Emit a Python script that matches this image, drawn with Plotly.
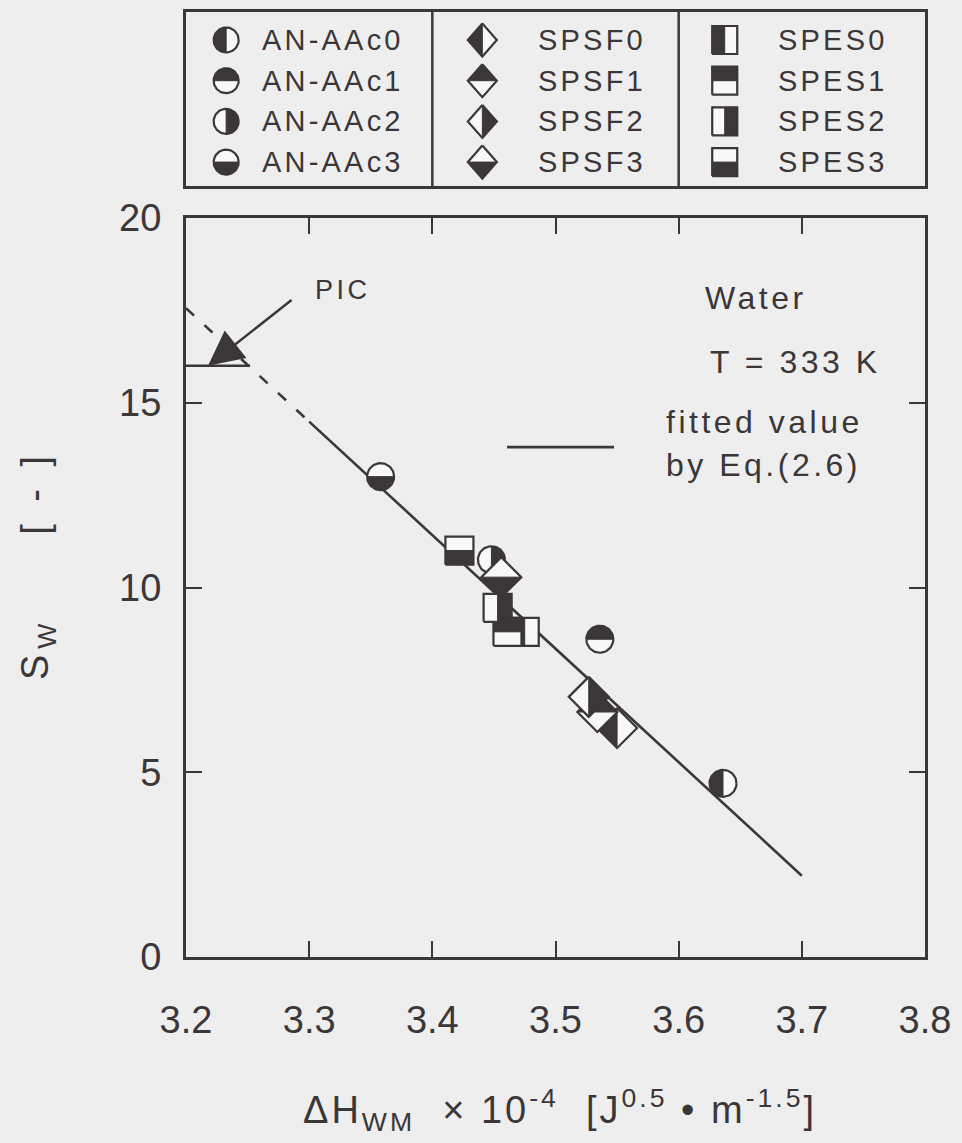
import numpy as np
import plotly.graph_objects as go

# ---------------- data ----------------
an_names = ["AN-AAc0", "AN-AAc1", "AN-AAc2", "AN-AAc3"]
an_x = [3.636, 3.536, 3.448, 3.358]
an_y = [4.70, 8.60, 10.75, 13.00]

spsf_names = ["SPSF0", "SPSF1", "SPSF2", "SPSF3"]
spsf_x = [3.550, 3.534, 3.527, 3.456]
spsf_y = [6.20, 6.63, 7.04, 10.28]

spes_names = ["SPES0", "SPES1", "SPES2", "SPES3"]
spes_x = [3.475, 3.461, 3.453, 3.422]
spes_y = [8.80, 8.80, 9.45, 11.00]

filled_half = ["left", "top", "right", "bottom"]

fit_dash_x = [3.20, 3.30]
fit_dash_y = [17.56, 14.49]
fit_solid_x = [3.30, 3.70]
fit_solid_y = [14.49, 2.20]

pic_x = [3.20, 3.252]
pic_y = [16.00, 16.00]

key_line_x = [3.4607, 3.5475]
key_line_y = [13.80, 13.80]

x_ticks = [3.2, 3.3, 3.4, 3.5, 3.6, 3.7, 3.8]
x_tick_text = ["3.2", "3.3", "3.4", "3.5", "3.6", "3.7", "3.8"]
y_ticks = [0, 5, 10, 15, 20]
y_tick_text = ["0", "5", "10", "15", "20"]

# ---------------- layout constants ----------------
W, H = 962, 1143
BG = "#efeeef"
INK = "#3b3637"
WHITE = "#f9f8f9"
FONT = "Liberation Sans, Arial, Helvetica, sans-serif"

M_LEFT, M_RIGHT, M_TOP, M_BOTTOM = 186, 925, 218, 957
L_TOP, L_BOTTOM = 12, 186
X_RANGE = [3.2, 3.8]
Y_RANGE = [0, 20]
PX_X = (M_RIGHT - M_LEFT) / (X_RANGE[1] - X_RANGE[0])
PX_Y = (M_BOTTOM - M_TOP) / (Y_RANGE[1] - Y_RANGE[0])

ROW_PX = 40.7
FIRST_ROW_PX = 28
LEG_H = L_BOTTOM - L_TOP
LEG_Y_RANGE = [LEG_H / ROW_PX - FIRST_ROW_PX / ROW_PX, -FIRST_ROW_PX / ROW_PX]
LEG_PX_X = (M_RIGHT - M_LEFT) / 3.0
LEG_PX_Y = -ROW_PX


def offsets(kind, half, rx, ry, n=72):
    """pixel offsets (up-positive) for full outline and the filled half"""
    if kind == "circle":
        t = np.linspace(0, 2 * np.pi, n + 1)
        full = (rx * np.cos(t), ry * np.sin(t))
        start = {"left": np.pi / 2, "right": -np.pi / 2, "top": 0.0, "bottom": np.pi}[half]
        th = np.linspace(start, start + np.pi, n // 2 + 1)
        hx = np.append(rx * np.cos(th), rx * np.cos(th[0]))
        hy = np.append(ry * np.sin(th), ry * np.sin(th[0]))
        return full, (hx, hy)
    if kind == "square":
        fx = np.array([-1, 1, 1, -1, -1]) * rx
        fy = np.array([-1, -1, 1, 1, -1]) * ry
        hp = {
            "left": ([-1, 0, 0, -1, -1], [-1, -1, 1, 1, -1]),
            "right": ([0, 1, 1, 0, 0], [-1, -1, 1, 1, -1]),
            "top": ([-1, 1, 1, -1, -1], [0, 0, 1, 1, 0]),
            "bottom": ([-1, 1, 1, -1, -1], [-1, -1, 0, 0, -1]),
        }[half]
        return (fx, fy), (np.array(hp[0]) * rx, np.array(hp[1]) * ry)
    # diamond
    fx = np.array([0, 1, 0, -1, 0]) * rx
    fy = np.array([1, 0, -1, 0, 1]) * ry
    hp = {
        "left": ([0, -1, 0, 0], [1, 0, -1, 1]),
        "right": ([0, 1, 0, 0], [1, 0, -1, 1]),
        "top": ([-1, 0, 1, -1], [0, 1, 0, 0]),
        "bottom": ([-1, 0, 1, -1], [0, -1, 0, 0]),
    }[half]
    return (fx, fy), (np.array(hp[0]) * rx, np.array(hp[1]) * ry)


def add_marker(fig, kind, half, cx, cy, rx, ry, sx, sy, xa="x", ya="y"):
    (fx, fy), (hx, hy) = offsets(kind, half, rx, ry)
    fig.add_trace(go.Scatter(
        x=cx + fx / sx, y=cy + fy / sy, mode="lines", fill="toself",
        fillcolor=WHITE, line=dict(color=INK, width=2.2),
        xaxis=xa, yaxis=ya, hoverinfo="skip", showlegend=False))
    fig.add_trace(go.Scatter(
        x=cx + hx / sx, y=cy + hy / sy, mode="lines", fill="toself",
        fillcolor=INK, line=dict(color=INK, width=1),
        xaxis=xa, yaxis=ya, hoverinfo="skip", showlegend=False))


def sp(text, ls=3.5):
    return '<span style="letter-spacing:%spx">%s</span>' % (ls, text)


fig = go.Figure()

# fitted line
fig.add_trace(go.Scatter(x=fit_dash_x, y=fit_dash_y, mode="lines",
                         line=dict(color=INK, width=2.6, dash="11px,14px"),
                         hoverinfo="skip", showlegend=False))
fig.add_trace(go.Scatter(x=fit_solid_x, y=fit_solid_y, mode="lines",
                         line=dict(color=INK, width=2.6),
                         hoverinfo="skip", showlegend=False))
fig.add_trace(go.Scatter(x=pic_x, y=pic_y, mode="lines",
                         line=dict(color=INK, width=2.4),
                         hoverinfo="skip", showlegend=False))
fig.add_trace(go.Scatter(x=key_line_x, y=key_line_y, mode="lines",
                         line=dict(color=INK, width=2.6),
                         hoverinfo="skip", showlegend=False))

series = [
    ("circle", an_x, an_y, 13.5, 13.5),
    ("square", spes_x, spes_y, 14.0, 14.0),
    ("diamond", spsf_x, spsf_y, 20.0, 20.0),
]
for kind, xs, ys, rx, ry in series:
    for i in range(len(xs)):
        add_marker(fig, kind, filled_half[i], xs[i], ys[i], rx, ry, PX_X, PX_Y)

# legend box contents
leg_cols = [
    ("circle", an_names, 0.163, 0.301, 12.5, 12.5),
    ("diamond", spsf_names, 1.203, 1.419, 14.5, 16.5),
    ("square", spes_names, 2.187, 2.394, 12.5, 14.0),
]
annotations = []
for kind, names, mx, tx, lrx, lry in leg_cols:
    for i, nm in enumerate(names):
        add_marker(fig, kind, filled_half[i], mx, i, lrx, lry, LEG_PX_X, LEG_PX_Y,
                   xa="x2", ya="y2")
        annotations.append(dict(x=tx, y=i, xref="x2", yref="y2", text=sp(nm, 3.2),
                                showarrow=False, xanchor="left", yanchor="middle",
                                font=dict(family=FONT, size=29, color=INK)))

# texts inside the plot
txt_font = dict(family=FONT, size=32, color=INK)
annotations += [
    dict(x=3.6198, y=17.84, text=sp("Water"), showarrow=False,
         xanchor="left", yanchor="middle", font=txt_font),
    dict(x=3.6239, y=16.10, text=sp("T = 333 K"), showarrow=False,
         xanchor="left", yanchor="middle", font=txt_font),
    dict(x=3.5881, y=14.48, text=sp("fitted value"), showarrow=False,
         xanchor="left", yanchor="middle", font=txt_font),
    dict(x=3.5881, y=13.32, text=sp("by Eq.(2.6)"), showarrow=False,
         xanchor="left", yanchor="middle", font=txt_font),
    dict(x=3.3275, y=18.05, text=sp("PIC", 3.5), showarrow=False,
         xanchor="center", yanchor="middle",
         font=dict(family=FONT, size=27, color=INK)),
    dict(x=3.2179, y=16.0, ax=85, ay=-67, text="", showarrow=True,
         arrowhead=2, arrowsize=2.8, arrowwidth=2.5, arrowcolor=INK,
         xref="x", yref="y"),
    # axis titles
    dict(x=560 / W, y=1 - 1110 / H, xref="paper", yref="paper",
         text=sp("ΔH<sub>WM</sub>  × 10<sup>-4</sup>  [J<sup>0.5</sup> • m<sup>-1.5</sup>]", 3),
         showarrow=False, xanchor="center", yanchor="middle",
         font=dict(family=FONT, size=38, color=INK)),
    dict(x=38 / W, y=1 - 565 / H, xref="paper", yref="paper",
         text=sp("S<sub>W</sub>     [ - ]", 6), textangle=-90,
         showarrow=False, xanchor="center", yanchor="middle",
         font=dict(family=FONT, size=38, color=INK)),
]

axis_common = dict(showline=True, linewidth=3, linecolor=INK, mirror="ticks",
                   ticks="inside", ticklen=16, tickwidth=2.4, tickcolor=INK,
                   showgrid=False, zeroline=False, automargin=False,
                   tickfont=dict(family=FONT, size=38, color=INK))

fig.update_layout(
    width=W, height=H, margin=dict(l=0, r=0, t=0, b=0, autoexpand=False),
    paper_bgcolor=BG, plot_bgcolor=BG, showlegend=False,
    xaxis=dict(domain=[M_LEFT / W, M_RIGHT / W], range=X_RANGE,
               tickmode="array", tickvals=x_ticks, ticktext=x_tick_text,
               ticklabelstandoff=27, **axis_common),
    yaxis=dict(domain=[1 - M_BOTTOM / H, 1 - M_TOP / H], range=Y_RANGE,
               tickmode="array", tickvals=y_ticks, ticktext=y_tick_text,
               ticklabelstandoff=14, **axis_common),
    xaxis2=dict(domain=[M_LEFT / W, M_RIGHT / W], range=[0, 3], anchor="y2",
                showline=True, linewidth=3, linecolor=INK, mirror=True,
                automargin=False,
                showticklabels=False, ticks="", showgrid=False, zeroline=False),
    yaxis2=dict(domain=[1 - L_BOTTOM / H, 1 - L_TOP / H], range=LEG_Y_RANGE, anchor="x2",
                showline=True, linewidth=3, linecolor=INK, mirror=True,
                automargin=False,
                showticklabels=False, ticks="", showgrid=False, zeroline=False),
    shapes=[
        dict(type="line", xref="x2", yref="y2 domain", x0=1, x1=1, y0=0, y1=1,
             line=dict(color=INK, width=2.5)),
        dict(type="line", xref="x2", yref="y2 domain", x0=2, x1=2, y0=0, y1=1,
             line=dict(color=INK, width=2.5)),
    ],
    annotations=annotations,
)

fig.write_html("out.html", config={"displayModeBar": False})
